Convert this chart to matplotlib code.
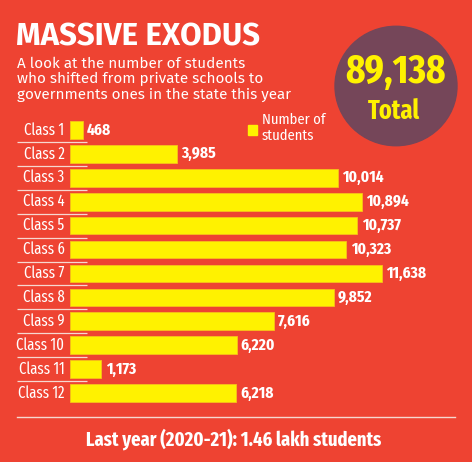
import matplotlib
matplotlib.use("Agg")
import matplotlib.pyplot as plt
from matplotlib.patches import Circle, Rectangle

# data
classes = ["Class 1", "Class 2", "Class 3", "Class 4", "Class 5", "Class 6",
           "Class 7", "Class 8", "Class 9", "Class 10", "Class 11", "Class 12"]
students = [468, 3985, 10014, 10894, 10737, 10323, 11638, 9852, 7616, 6220, 1173, 6218]
total_label = "89,138"
title = "MASSIVE EXODUS"
subtitle = ["A look at the number of students",
            "who shifted from private schools to",
            "governments ones in the state this year"]
footer = "Last year (2020-21): 1.46 lakh students"

RED = "#EE4332"
PURPLE = "#754659"
YELLOW = "#FFF200"
W, H = 472, 462

def fx(x):
    return x / W

def fy(y):
    return 1 - y / H

fig = plt.figure(figsize=(W / 100, H / 100), dpi=100, facecolor=RED)

# heading block
fig.text(fx(16), fy(45), title, color="white", family="Fira Sans", weight="bold",
         fontsize=22.5, va="baseline", ha="left")
for i, line in enumerate(subtitle):
    fig.text(fx(17), fy(68 + 15.5 * i), line, color="white", family="Fira Sans",
             fontsize=11, va="baseline", ha="left")

# total bubble
fig.add_artist(Circle((fx(396), fy(86)), 61 / W, color=PURPLE,
                      transform=fig.transFigure))
fig.text(fx(395), fy(72), total_label, color=YELLOW, family="Fira Sans Extra Condensed",
         weight="bold", fontsize=29, ha="center", va="center")
fig.text(fx(394), fy(111), "Total", color=YELLOW, family="Fira Sans Extra Condensed",
         weight="bold", fontsize=19, ha="center", va="center")

# bars
ax = fig.add_axes([fx(70), fy(405), (W - 70) / W, 287 / H])
ax.set_facecolor("none")
ypos = list(range(len(classes)))
ax.barh(ypos, students, height=0.74, color=YELLOW, edgecolor="#F7C21A", linewidth=0.6)
ax.set_xlim(0, 400 / 0.02664)
ax.set_ylim(len(classes) - 0.5, -0.5)
ax.axis("off")

for y, name, v in zip(ypos, classes, students):
    ax.annotate(name, (0, y), xytext=(-4, 0), textcoords="offset points",
                ha="right", va="center", color="white",
                family="Fira Sans Extra Condensed", fontsize=11.5)
    ax.annotate(f"{v:,}", (v, y), xytext=(3, 0), textcoords="offset points",
                ha="left", va="center", color="white",
                family="Fira Sans Extra Condensed", weight="bold", fontsize=12)

# thin separators between class labels
sep_y = [y + 0.5 for y in ypos[:-1]]
ax.hlines(sep_y, -53 / 400, 17 / 400, colors="#F6D8D0", linewidth=0.9,
          transform=ax.get_yaxis_transform(), clip_on=False)

# legend
fig.add_artist(Rectangle((fx(248), fy(135)), 9 / W, 10 / H, color=YELLOW,
                         transform=fig.transFigure))
fig.text(fx(262), fy(124), "Number of", color="white", family="Fira Sans Condensed",
         fontsize=10.5, va="baseline")
fig.text(fx(262), fy(140), "students", color="white", family="Fira Sans Condensed",
         fontsize=10.5, va="baseline")

# footer
fig.add_artist(plt.Line2D([fx(17), fx(455)], [fy(417), fy(417)], color="#F6D8D0",
                          linewidth=1, transform=fig.transFigure))
fig.text(fx(234), fy(446), footer, color="white", family="Fira Sans Extra Condensed",
         weight="bold", fontsize=14.5, ha="center", va="baseline")

fig.savefig("out.png", facecolor=RED)
